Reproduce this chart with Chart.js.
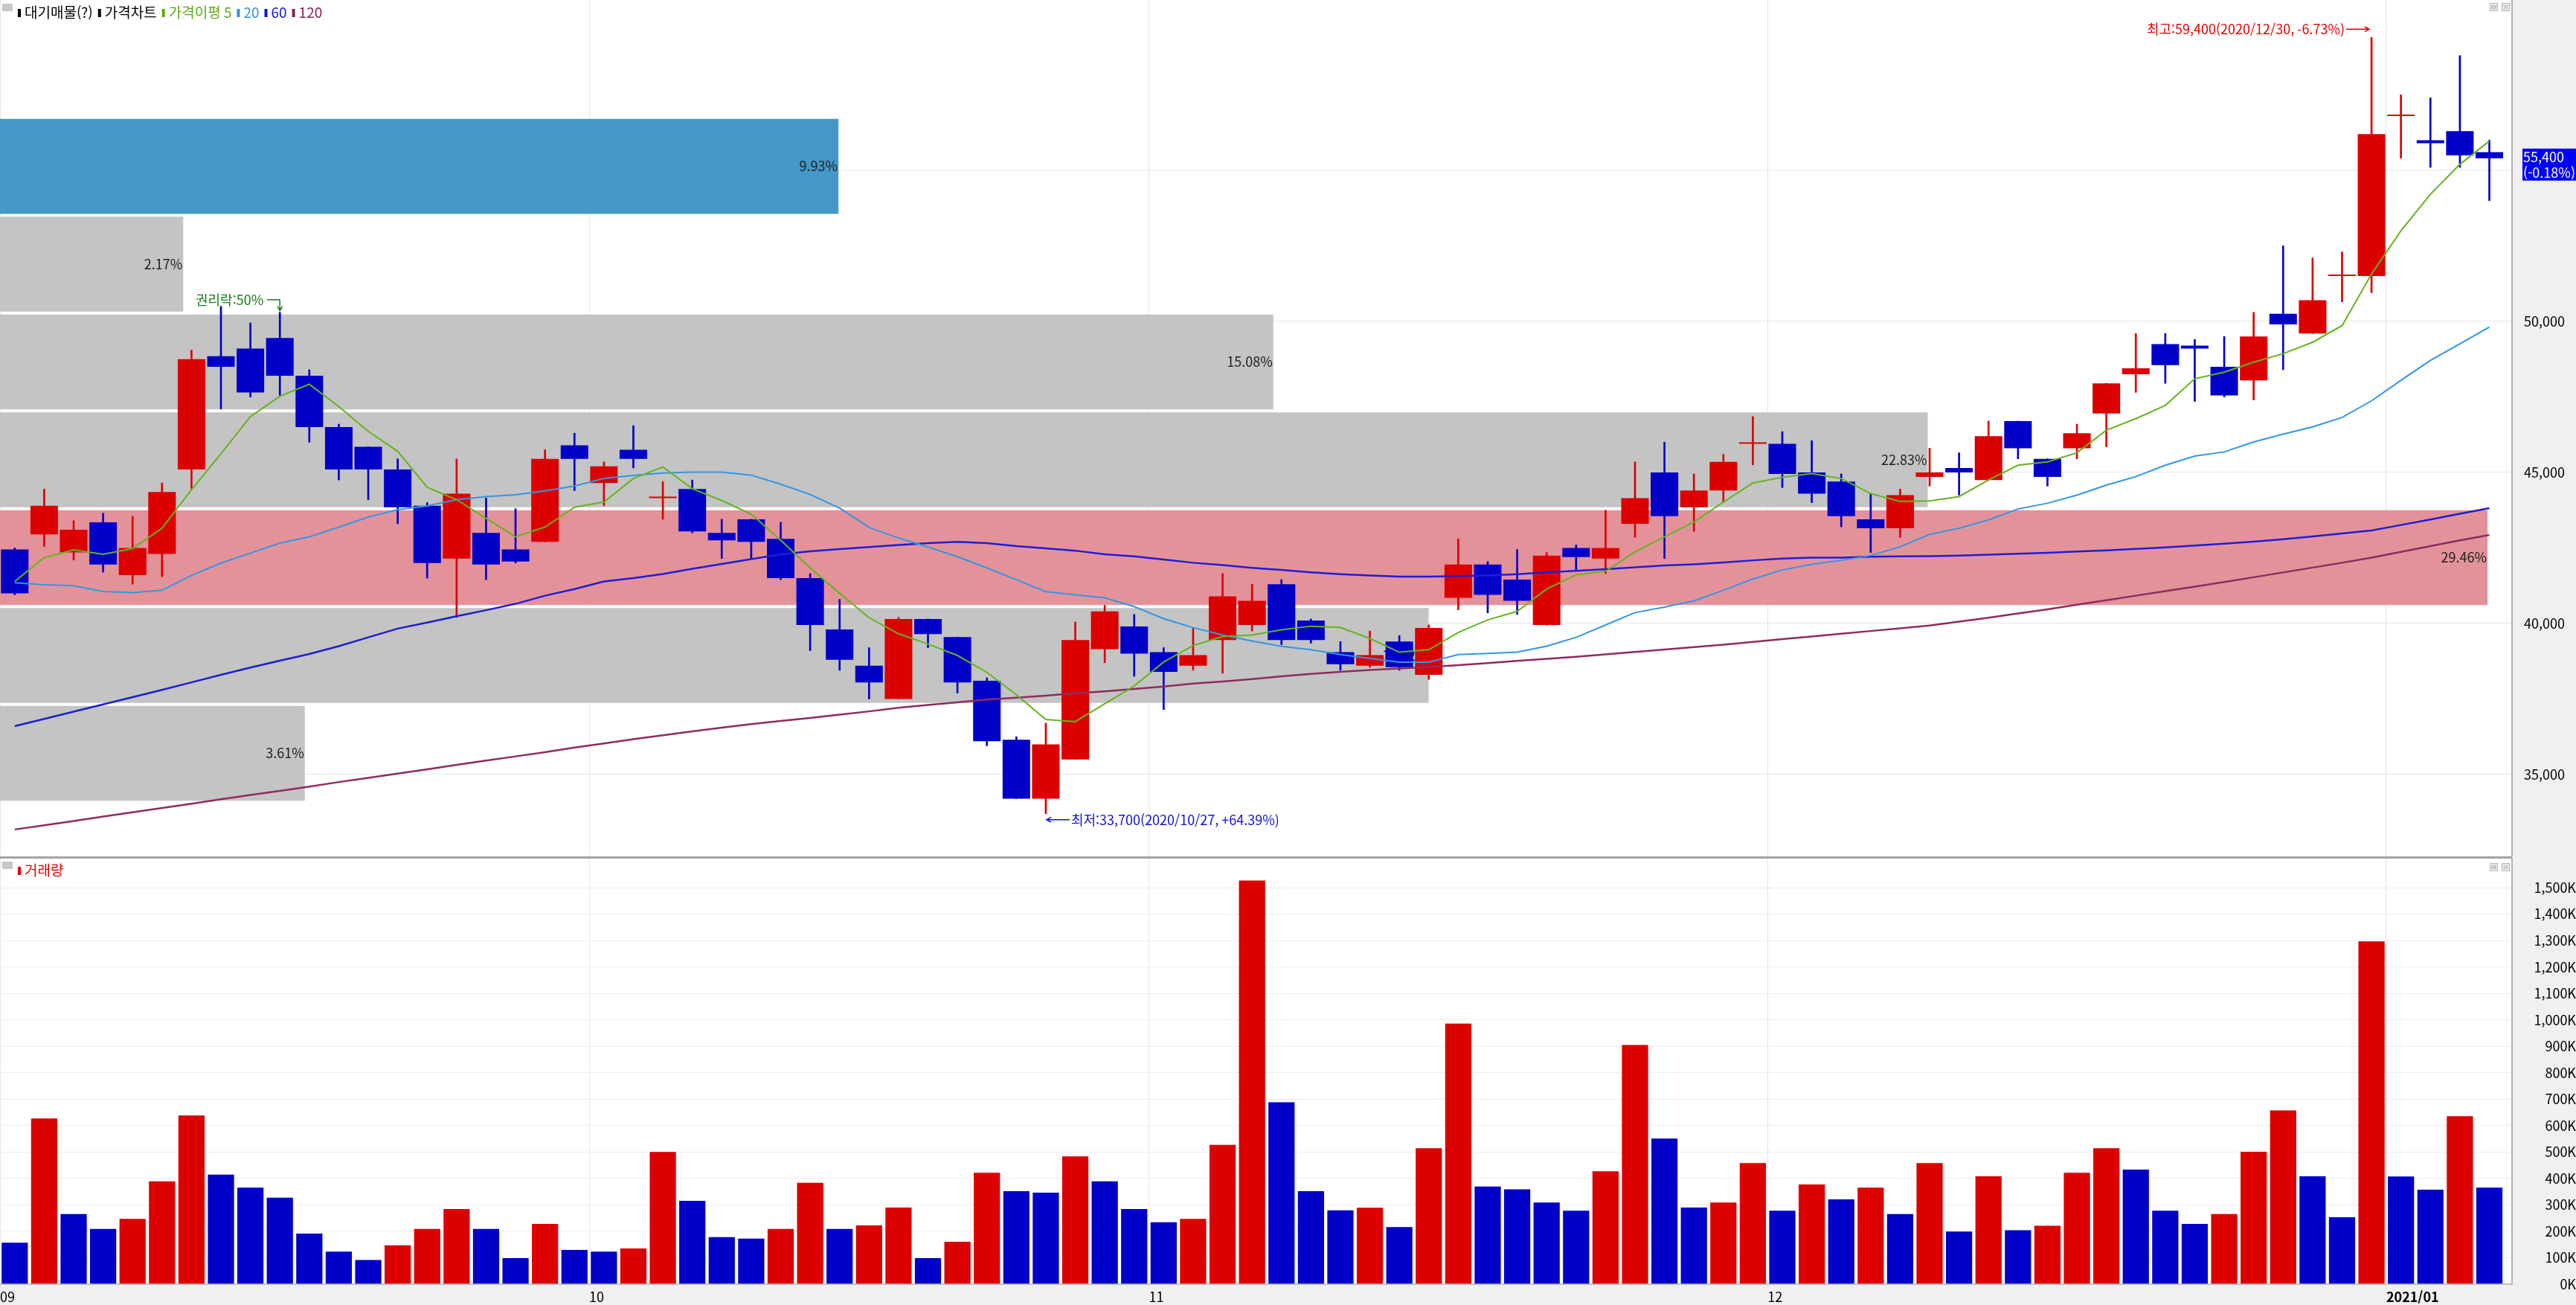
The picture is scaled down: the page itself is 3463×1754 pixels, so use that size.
<!DOCTYPE html>
<html lang="ko">
<head>
<meta charset="utf-8">
<title>가격차트</title>
<script src="https://cdn.jsdelivr.net/npm/chart.js@4.4.1/dist/chart.umd.min.js"></script>
<style>
  html, body { margin: 0; padding: 0; background: #f0f0f0; }
  #wrap { width: 3463px; height: 1754px; }
  canvas { display: block; }
</style>
</head>
<body>
<div id="wrap">
  <canvas id="priceChart" width="3463" height="1151"></canvas>
  <canvas id="volumeChart" width="3463" height="603"></canvas>
</div>
<script>
// 거래일 (월별)
const sepDays = [2, 3, 4, 7, 8, 9, 10, 11, 14, 15, 16, 17, 18, 21, 22, 23, 24, 25, 28, 29];
const octDays = [5, 6, 7, 8, 12, 13, 14, 15, 16, 19, 20, 21, 22, 23, 26, 27, 28, 29, 30];
const novDays = [2, 3, 4, 5, 6, 9, 10, 11, 12, 13, 16, 17, 18, 19, 20, 23, 24, 25, 26, 27, 30];
const decDays = [1, 2, 3, 4, 7, 8, 9, 10, 11, 14, 15, 16, 17, 18, 21, 22, 23, 24, 28, 29, 30];
const janDays = [4, 5, 6, 7];

// 시가 / 고가 / 저가 / 종가
const opens = [42450, 42950, 42350, 43350, 41600, 42300, 45100, 48850, 49100, 49450,
  48200, 46500, 45850, 45100, 43900, 42150, 43000, 42450, 42700, 45900,
  44650, 45750, 44150, 44450, 43000, 43450, 42800, 41500, 39800, 38600,
  37500, 40150, 39550, 38100, 36150, 34200, 35500, 39150, 39900, 39050,
  38600, 39450, 39950, 41300, 40100, 39050, 38600, 39400, 38300, 40850,
  41950, 41450, 39950, 42500, 42150, 43300, 45000, 43850, 44400, 45950,
  45950, 45000, 44700, 43450, 43150, 44850, 45150, 44750, 46700, 45450,
  45800, 46950, 48250, 49250, 49200, 48500, 48050, 50250, 49600, 51500,
  51500, 56800, 56000, 56300, 55600];
const highs = [42500, 44450, 43400, 43650, 43550, 44650, 49050, 50500, 49950, 50300,
  48400, 46600, 45850, 45450, 44000, 45450, 44150, 43800, 45750, 46300,
  45350, 46550, 44700, 44750, 43450, 43450, 43350, 41650, 40800, 39200,
  40200, 40150, 39550, 38200, 36250, 36700, 40050, 40600, 40300, 39200,
  39850, 41650, 41300, 41450, 40150, 39400, 39750, 39600, 39950, 42800,
  42050, 42450, 42350, 42600, 43750, 45350, 46000, 44950, 45600, 46850,
  46350, 46050, 44950, 44300, 44450, 45800, 45650, 46700, 46700, 45450,
  46600, 47950, 49600, 49600, 49400, 49500, 50300, 52500, 52100, 52300,
  59400, 57500, 57400, 58800, 56000];
const lows = [40950, 42550, 42100, 41700, 41300, 41550, 44450, 47100, 47500, 47550,
  46000, 44750, 44100, 43300, 41500, 40200, 41450, 42000, 42700, 44400,
  43900, 45150, 43450, 43000, 42150, 42150, 41450, 39100, 38450, 37500,
  37500, 39200, 37700, 35950, 34200, 33700, 35500, 38700, 38250, 37150,
  38450, 38350, 39750, 39300, 39350, 38450, 38550, 38450, 38150, 40450,
  40350, 40300, 39950, 41750, 41650, 42850, 42150, 43050, 44000, 45250,
  44500, 44000, 43200, 42350, 42850, 44550, 44250, 44750, 45450, 44550,
  45450, 45850, 47650, 47950, 47350, 47500, 47400, 48400, 49600, 50650,
  50950, 55400, 55100, 55100, 54000];
const closes = [41000, 43900, 43100, 41950, 42500, 44350, 48750, 48500, 47650, 48200,
  46500, 45100, 45100, 43850, 42000, 44300, 41950, 42050, 45450, 45450,
  45200, 45450, 44200, 43050, 42750, 42700, 41500, 39950, 38800, 38050,
  40150, 39650, 38050, 36100, 34200, 36000, 39450, 40400, 39000, 38400,
  38950, 40900, 40750, 39450, 39450, 38650, 38950, 38550, 39850, 41950,
  40950, 40750, 42250, 42200, 42500, 44150, 43550, 44400, 45350, 45950,
  44950, 44300, 43550, 43150, 44250, 45000, 45000, 46200, 45800, 44850,
  46300, 47950, 48450, 48550, 49100, 47550, 49500, 49900, 50700, 51500,
  56200, 56800, 55900, 55500, 55400];

// 거래량 (천주)
const volumes = [160, 630, 268, 212, 250, 392, 641, 417, 368, 330,
  194, 126, 94, 150, 212, 287, 212, 101, 231, 132,
  126, 138, 503, 318, 181, 175, 212, 386, 212, 225,
  293, 101, 163, 424, 355, 349, 486, 392, 287, 237,
  250, 530, 1530, 691, 355, 282, 292, 219, 517, 989,
  372, 362, 312, 281, 430, 908, 554, 293, 312, 461,
  281, 380, 324, 368, 268, 461, 202, 411, 207, 224,
  424, 517, 436, 281, 231, 268, 504, 660, 411, 256,
  1300, 410, 360, 638, 368];

// 가격이평
const ma5 = [41390, 42180, 42440, 42290, 42480, 43150, 44430, 45620, 46850, 47520,
  47920, 47180, 46360, 45700, 44510, 44100, 43480, 42870, 43190, 43850,
  44020, 44800, 45180, 44460, 44070, 43620, 42760, 41840, 41000, 40190,
  39660, 39320, 38940, 38380, 37640, 36820, 36750, 37340, 37930, 38720,
  39270, 39570, 39620, 39790, 39910, 39870, 39500, 39050, 39130, 39700,
  40120, 40400, 41140, 41610, 41730, 42370, 42870, 43360, 44020, 44650,
  44840, 44960, 44800, 44300, 44040, 44060, 44200, 44750, 45240, 45350,
  45650, 46400, 46780, 47220, 48100, 48320, 48650, 48930, 49310, 49860,
  51570, 53000, 54210, 55200, 55970];
const ma20 = [41350, 41280, 41250, 41060, 41020, 41100, 41590, 42000, 42330, 42660,
  42870, 43190, 43520, 43770, 43890, 44100, 44200, 44260, 44390, 44550,
  44800, 44900, 44980, 45010, 45010, 44910, 44610, 44270, 43820, 43180,
  42830, 42530, 42210, 41840, 41450, 41050, 40950, 40850, 40560, 40160,
  39860, 39620, 39420, 39240, 39130, 38970, 38840, 38720, 38720, 38970,
  39010, 39050, 39250, 39540, 39950, 40360, 40540, 40750, 41100, 41470,
  41770, 41960, 42090, 42250, 42540, 42950, 43150, 43430, 43790, 43980,
  44250, 44580, 44860, 45240, 45540, 45680, 46010, 46270, 46510, 46820,
  47370, 48050, 48710, 49260, 49810];
const ma60 = [36600, 36840, 37080, 37320, 37560, 37800, 38050, 38300, 38540, 38770,
  38990, 39250, 39540, 39830, 40030, 40240, 40440, 40650, 40920, 41140,
  41390, 41500, 41640, 41810, 41970, 42130, 42290, 42390, 42460, 42530,
  42600, 42660, 42700, 42660, 42560, 42490, 42410, 42290, 42220, 42120,
  42010, 41930, 41840, 41770, 41690, 41630, 41590, 41550, 41550, 41570,
  41590, 41630, 41690, 41740, 41800, 41860, 41920, 41960, 42020, 42090,
  42150, 42180, 42180, 42210, 42220, 42230, 42250, 42280, 42310, 42340,
  42380, 42420, 42470, 42520, 42580, 42640, 42710, 42790, 42880, 42980,
  43080, 43260, 43440, 43630, 43815];
const ma120 = [33180, 33320, 33460, 33610, 33750, 33890, 34030, 34180, 34320, 34460,
  34600, 34750, 34890, 35030, 35170, 35320, 35460, 35600, 35740, 35890,
  36030, 36170, 36300, 36430, 36550, 36670, 36770, 36870, 36980, 37090,
  37210, 37300, 37390, 37480, 37540, 37610, 37690, 37750, 37830, 37910,
  38010, 38080, 38160, 38250, 38330, 38400, 38460, 38510, 38560, 38620,
  38690, 38760, 38830, 38900, 38980, 39060, 39140, 39220, 39300, 39390,
  39480, 39570, 39660, 39750, 39840, 39930, 40060, 40190, 40330, 40470,
  40620, 40770, 40920, 41070, 41220, 41370, 41530, 41690, 41850, 42010,
  42180, 42370, 42560, 42750, 42930];

// 대기매물 (가격대 중심값, 비중 %)
const profilePrices = [35704, 38942, 42180, 45418, 48656, 51894, 55132];
const profilePercents = [3.61, 16.92, 29.46, 22.83, 15.08, 2.17, 9.93];

// 눈금
const priceTicks = [35000, 40000, 45000, 50000, 55000];
const volumeTicks = [0, 100, 200, 300, 400, 500, 600, 700, 800, 900, 1000, 1100, 1200, 1300, 1400, 1500];
const rightsDate = "2020/09/15";
const rightsText = "권리락:50%";

// ---- 날짜 / 월 눈금 만들기
const dates = [];
const monthStarts = [];
const monthLabels = [];
[["2020", "09", sepDays], ["2020", "10", octDays], ["2020", "11", novDays],
 ["2020", "12", decDays], ["2021", "01", janDays]].forEach(([yy, mm, days]) => {
  monthStarts.push(dates.length);
  monthLabels.push(yy === "2020" ? mm : yy + "/" + mm);
  days.forEach(d => dates.push(`${yy}/${mm}/${String(d).padStart(2, "0")}`));
});

const FONT = "'Noto Sans CJK KR', 'Noto Sans', sans-serif";
const RED = "#dc0000";
const BLUE = "#0000c8";
const xMin = -0.5;
const xMax = dates.length - 0.23;
const priceMin = 32290;
const priceMax = 60640;

const idx = dates.map((d, i) => i);
const fmt = v => v.toLocaleString("en-US");
const pct = r => (r >= 1 ? "+" : "") + ((r - 1) * 100).toFixed(2) + "%";
const last = closes[closes.length - 1];
const highIdx = highs.indexOf(Math.max(...highs));
const lowIdx = lows.indexOf(Math.min(...lows));
const rightsIdx = dates.indexOf(rightsDate);

const candleColors = idx.map(i => closes[i] >= opens[i] ? RED : BLUE);
const volumeColors = idx.map(i => i > 0 && volumes[i] > volumes[i - 1] ? RED : BLUE);
const maxPct = Math.max(...profilePercents);
const bandColors = profilePrices.map((p, i) => {
  if (profilePercents[i] === maxPct) return "#e4929a";
  const half = (profilePrices[1] - profilePrices[0]) / 2;
  if (last >= p - half && last < p + half) return "#4498c8";
  return "#c4c4c4";
});

// ---- 공통 도우미
function arrow(ctx, x0, y0, x1, y1) {
  const a = Math.atan2(y1 - y0, x1 - x0);
  ctx.beginPath();
  ctx.moveTo(x0, y0);
  ctx.lineTo(x1, y1);
  ctx.moveTo(x1 - 7 * Math.cos(a - 0.5), y1 - 7 * Math.sin(a - 0.5));
  ctx.lineTo(x1, y1);
  ctx.lineTo(x1 - 7 * Math.cos(a + 0.5), y1 - 7 * Math.sin(a + 0.5));
  ctx.stroke();
}

function windowButtons(ctx, right, top) {
  ctx.save();
  [right - 30, right - 14].forEach((bx, k) => {
    ctx.fillStyle = "#e6e6e6";
    ctx.strokeStyle = "#b8b8b8";
    ctx.lineWidth = 1;
    ctx.fillRect(bx, top, 11, 11);
    ctx.strokeRect(bx + 0.5, top + 0.5, 10, 10);
    ctx.strokeStyle = "#a0a0a0";
    ctx.beginPath();
    if (k === 0) { ctx.rect(bx + 3, top + 4, 5, 3); }
    else { ctx.moveTo(bx + 3, top + 3); ctx.lineTo(bx + 8, top + 8); ctx.moveTo(bx + 8, top + 3); ctx.lineTo(bx + 3, top + 8); }
    ctx.stroke();
  });
  ctx.restore();
}

function legendRow(ctx, items, x, y) {
  ctx.save();
  ctx.fillStyle = "#c8c8c8";
  ctx.fillRect(3, y - 12, 14, 10);
  ctx.font = `19px ${FONT}`;
  ctx.textBaseline = "middle";
  ctx.textAlign = "left";
  items.forEach(it => {
    ctx.fillStyle = it.color;
    ctx.fillRect(x, y - 5, 4, 11);
    x += 9;
    ctx.fillText(it.label, x, y);
    x += ctx.measureText(it.label).width + 7;
  });
  ctx.restore();
}

// 축 글자 때문에 생기는 위/아래 여백 없애기
const noPad = s => { s.paddingTop = 0; s.paddingBottom = 0; s.paddingLeft = 0; s.paddingRight = 0; };

const panelFrame = {
  id: "panelFrame",
  beforeDraw(chart) {
    const { ctx, chartArea: a } = chart;
    ctx.save();
    ctx.fillStyle = "#f0f0f0";
    ctx.fillRect(0, 0, chart.width, chart.height);
    ctx.fillStyle = "#ffffff";
    ctx.fillRect(a.left, a.top, a.right - a.left, a.bottom - a.top);
    ctx.restore();
  }
};

// 대기매물 비중 글자 (캔들 아래에 그린다)
const bandLabels = {
  id: "bandLabels",
  afterDatasetDraw(chart, args) {
    if (chart.data.datasets[args.index].label !== "대기매물") return;
    const ctx = chart.ctx;
    ctx.save();
    ctx.font = `18px ${FONT}`;
    ctx.fillStyle = "#202020";
    ctx.textAlign = "right";
    ctx.textBaseline = "middle";
    args.meta.data.forEach((bar, i) => {
      ctx.fillText(profilePercents[i].toFixed(2) + "%", bar.x - 1, bar.y);
    });
    ctx.restore();
  }
};

const priceNotes = {
  id: "priceNotes",
  afterDatasetsDraw(chart) {
    const { ctx, scales: { x, y } } = chart;
    ctx.save();
    ctx.font = `18px ${FONT}`;
    ctx.textBaseline = "middle";
    ctx.lineWidth = 1.5;

    // 최고가
    const hx = x.getPixelForValue(highIdx);
    const hy = y.getPixelForValue(highs[highIdx]) - 11;
    ctx.fillStyle = ctx.strokeStyle = "#e60000";
    ctx.textAlign = "right";
    ctx.fillText(`최고:${fmt(highs[highIdx])}(${dates[highIdx]}, ${pct(last / highs[highIdx])})`, hx - 36, hy);
    arrow(ctx, hx - 34, hy, hx - 3, hy);

    // 최저가
    const lx = x.getPixelForValue(lowIdx);
    const ly = y.getPixelForValue(lows[lowIdx]) + 8;
    ctx.fillStyle = ctx.strokeStyle = "#1010d8";
    ctx.textAlign = "left";
    arrow(ctx, lx + 32, ly, lx + 1, ly);
    ctx.fillText(`최저:${fmt(lows[lowIdx])}(${dates[lowIdx]}, ${pct(last / lows[lowIdx])})`, lx + 34, ly);

    // 권리락
    const rx = x.getPixelForValue(rightsIdx);
    const ry = y.getPixelForValue(highs[rightsIdx]);
    ctx.fillStyle = ctx.strokeStyle = "#1a7a1a";
    ctx.textAlign = "right";
    ctx.fillText(rightsText, rx - 22, ry - 17);
    ctx.beginPath();
    ctx.moveTo(rx - 17, ry - 17);
    ctx.lineTo(rx, ry - 17);
    ctx.stroke();
    arrow(ctx, rx, ry - 17, rx, ry - 2);
    ctx.restore();
  },
  afterDraw(chart) {
    const { ctx, chartArea: a, scales: { y } } = chart;
    // 현재가 표시
    const py = y.getPixelForValue(last);
    ctx.save();
    ctx.fillStyle = "#0000ff";
    ctx.fillRect(a.right + 14, py - 13, chart.width - a.right - 14, 43);
    ctx.fillStyle = "#ffffff";
    ctx.font = `18px ${FONT}`;
    ctx.textBaseline = "middle";
    ctx.textAlign = "left";
    ctx.fillText(fmt(last), a.right + 15, py - 2);
    ctx.fillText(`(${pct(last / closes[closes.length - 2])})`, a.right + 15, py + 19);
    ctx.restore();

    legendRow(ctx, [
      { label: "대기매물(?)", color: "#000000" },
      { label: "가격차트", color: "#000000" },
      { label: "가격이평 5", color: "#5aaa14" },
      { label: "20", color: "#2e92e0" },
      { label: "60", color: "#1818d0" },
      { label: "120", color: "#8c1e50" }
    ], 24, 17);
    windowButtons(ctx, a.right, 4);
  }
};

const volumeNotes = {
  id: "volumeNotes",
  afterDraw(chart) {
    const { ctx, chartArea: a } = chart;
    ctx.save();
    ctx.fillStyle = "#a4a4a4";
    ctx.fillRect(0, 0, a.right, 3);
    ctx.restore();
    legendRow(ctx, [{ label: "거래량", color: "#e00000" }], 24, 19);
    windowButtons(ctx, a.right, 9);
  }
};

const tickFont = { family: FONT, size: 18 };

// ---- 가격 차트
new Chart(document.getElementById("priceChart"), {
  type: "bar",
  data: {
    datasets: [
      {
        label: "대기매물",
        indexAxis: "y",
        xAxisID: "x2",
        yAxisID: "y2",
        data: profilePrices.map((p, i) => ({ x: profilePercents[i], y: p })),
        backgroundColor: bandColors,
        categoryPercentage: 1,
        barPercentage: 0.97,
        grouped: false,
        order: 6
      },
      {
        label: "꼬리",
        data: idx.map(i => ({ x: i, y: [lows[i], highs[i]] })),
        backgroundColor: candleColors,
        barThickness: 2,
        grouped: false,
        order: 5
      },
      {
        label: "가격차트",
        data: idx.map(i => ({ x: i, y: [opens[i], closes[i]] })),
        backgroundColor: candleColors,
        categoryPercentage: 1,
        barPercentage: 0.935,
        minBarLength: 2,
        grouped: false,
        order: 4
      },
      { type: "line", label: "120", data: idx.map(i => ({ x: i, y: ma120[i] })), borderColor: "#8e2c5e", borderWidth: 2.5, pointRadius: 0, order: 3 },
      { type: "line", label: "60", data: idx.map(i => ({ x: i, y: ma60[i] })), borderColor: "#1e1ed2", borderWidth: 2.5, pointRadius: 0, order: 2 },
      { type: "line", label: "20", data: idx.map(i => ({ x: i, y: ma20[i] })), borderColor: "#3296e6", borderWidth: 2, pointRadius: 0, order: 1 },
      { type: "line", label: "가격이평 5", data: idx.map(i => ({ x: i, y: ma5[i] })), borderColor: "#64b41e", borderWidth: 2, pointRadius: 0, order: 0 }
    ]
  },
  options: {
    responsive: false,
    animation: false,
    devicePixelRatio: 1,
    events: [],
    layout: { padding: 0 },
    plugins: { legend: { display: false }, tooltip: { enabled: false } },
    scales: {
      x: {
        type: "linear", min: xMin, max: xMax, offset: false,
        grid: { color: "#e6e6e6", drawTicks: false, offset: false },
        border: { display: false },
        ticks: { display: false },
        afterBuildTicks: s => { s.ticks = monthStarts.map(i => ({ value: i - 0.5 })); },
        afterFit: s => { s.height = 0; noPad(s); }
      },
      y: {
        type: "linear", position: "right", min: priceMin, max: priceMax,
        grid: { color: "#e6e6e6", tickLength: 8 },
        border: { color: "#b4b4b4", width: 2 },
        ticks: { font: tickFont, color: "#000", padding: 8, callback: v => fmt(v) },
        afterBuildTicks: s => { s.ticks = priceTicks.map(v => ({ value: v })); },
        afterFit: s => { s.width = 86; noPad(s); }
      },
      x2: {
        type: "linear", axis: "x", display: false, min: 0, max: 29.75,
        offset: false, grid: { offset: false }
      },
      y2: {
        type: "linear", axis: "y", display: false, min: priceMin, max: priceMax,
        offset: false, grid: { offset: false },
        afterBuildTicks: s => { s.ticks = profilePrices.map(v => ({ value: v })); }
      }
    }
  },
  plugins: [panelFrame, bandLabels, priceNotes]
});

// ---- 거래량 차트
new Chart(document.getElementById("volumeChart"), {
  type: "bar",
  data: {
    datasets: [{
      label: "거래량",
      data: idx.map(i => ({ x: i, y: volumes[i] })),
      backgroundColor: volumeColors,
      borderColor: "rgba(255,255,255,0.55)",
      borderWidth: 1,
      categoryPercentage: 1,
      barPercentage: 0.94,
      grouped: false
    }]
  },
  options: {
    responsive: false,
    animation: false,
    devicePixelRatio: 1,
    events: [],
    layout: { padding: { top: 3 } },
    plugins: { legend: { display: false }, tooltip: { enabled: false } },
    scales: {
      x: {
        type: "linear", min: xMin, max: xMax, offset: false,
        grid: { color: "#e6e6e6", tickLength: 6, offset: false },
        border: { color: "#c0c0c0", width: 2 },
        ticks: {
          align: "start", padding: 0, maxRotation: 0, autoSkip: false, color: "#000",
          font: c => ({ family: FONT, size: 18, weight: c.tick && String(c.tick.label).length > 2 ? "bold" : "normal" }),
          callback: (v, i) => monthLabels[i]
        },
        afterBuildTicks: s => { s.ticks = monthStarts.map(i => ({ value: i - 0.5 })); },
        afterFit: s => { s.height = 28; noPad(s); }
      },
      y: {
        type: "linear", position: "right", min: 0, max: 1610,
        grid: { color: "#ececec", tickLength: 8 },
        border: { color: "#b4b4b4", width: 2 },
        ticks: { font: tickFont, color: "#000", padding: 8, crossAlign: "far", callback: v => fmt(v) + "K" },
        afterBuildTicks: s => { s.ticks = volumeTicks.map(v => ({ value: v })); },
        afterFit: s => { s.width = 86; noPad(s); }
      }
    }
  },
  plugins: [panelFrame, volumeNotes]
});
</script>
</body>
</html>
